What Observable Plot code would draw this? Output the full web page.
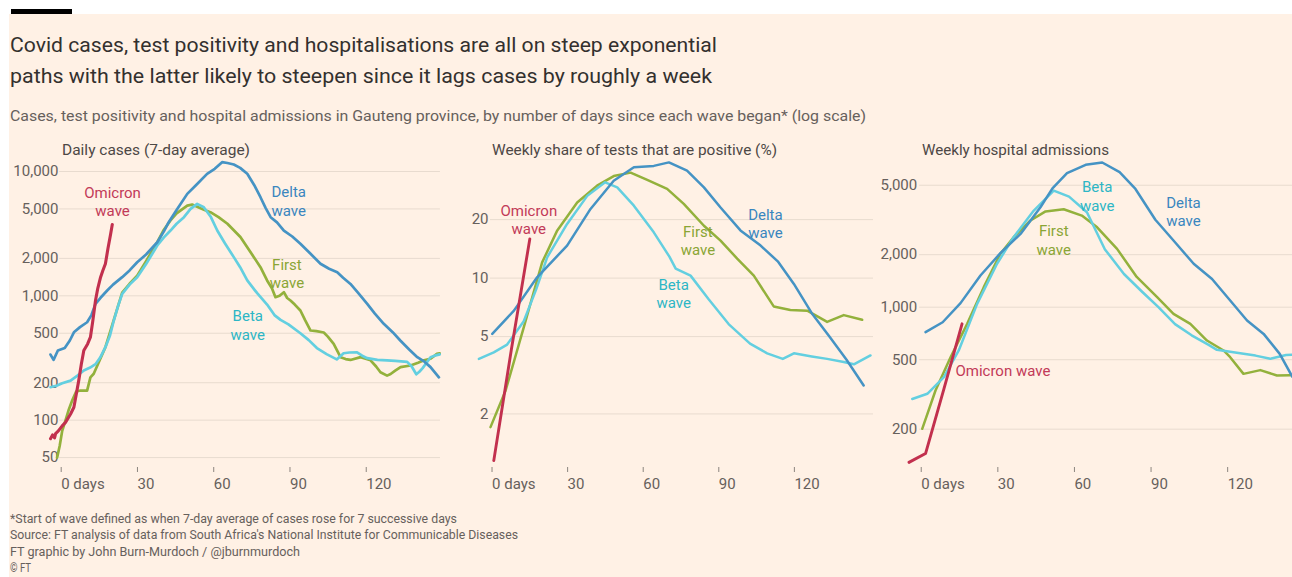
<!DOCTYPE html>
<html>
<head>
<meta charset="utf-8">
<script src="https://cdn.jsdelivr.net/npm/d3@7"></script>
<script src="https://cdn.jsdelivr.net/npm/@observablehq/plot@0.6"></script>
<style>
  html, body { margin: 0; padding: 0; background: #ffffff; }
  #root { position: relative; width: 1292px; height: 577px; overflow: hidden; background: #ffffff; font-family: Roboto, "Noto Sans", sans-serif; }
  #paper { position: absolute; left: 9px; top: 14px; right: 0; bottom: 0; background: #fff1e5; }
  #bar { position: absolute; left: 11px; top: 9px; width: 61px; height: 5px; background: #000; }
  .t { position: absolute; white-space: nowrap; transform-origin: 0 50%; line-height: 1; }
  .title { font-size: 21px; color: #33302e; }
  .sub { font-size: 15px; color: #66605c; }
  .ptitle { font-size: 15px; color: #4d4845; }
  .foot { font-size: 12.5px; color: #66605c; }
  .panel { position: absolute; top: 130px; }
</style>
</head>
<body>
<div id="root">
  <div id="paper"></div>
  <div id="bar"></div>
  <div class="t title" style="left:10px; top:34.5px" data-w="707">Covid cases, test positivity and hospitalisations are all on steep exponential</div>
  <div class="t title" style="left:10px; top:65.5px" data-w="702">paths with the latter likely to steepen since it lags cases by roughly a week</div>
  <div class="t sub" style="left:10px; top:108.5px" data-w="856">Cases, test positivity and hospital admissions in Gauteng province, by number of days since each wave began* (log scale)</div>
  <div class="t ptitle" style="left:62px; top:142.5px" data-w="188">Daily cases (7-day average)</div>
  <div class="t ptitle" style="left:492px; top:142.5px" data-w="285">Weekly share of tests that are positive (%)</div>
  <div class="t ptitle" style="left:922px; top:142.5px" data-w="187">Weekly hospital admissions</div>
  <div class="panel" id="p1" style="left:0px; width:450px"></div>
  <div class="panel" id="p2" style="left:440px; width:440px"></div>
  <div class="panel" id="p3" style="left:860px; width:432px"></div>
  <div class="t foot" style="left:10px; top:512.5px" data-w="447">*Start of wave defined as when 7-day average of cases rose for 7 successive days</div>
  <div class="t foot" style="left:10px; top:529px" data-w="508">Source: FT analysis of data from South Africa's National Institute for Communicable Diseases</div>
  <div class="t foot" style="left:10px; top:545.5px" data-w="290">FT graphic by John Burn-Murdoch / @jburnmurdoch</div>
  <div class="t foot" style="left:10px; top:561.5px" data-w="21">© FT</div>
</div>
<script>
// ---------- DATA ----------
const waves = ["First", "Beta", "Delta", "Omicron"];
const xTicks = [0, 30, 60, 90, 120];

// Daily cases (7-day average): [day since wave began, cases]
const casesFirst = [[-2,50],[-1,62],[0,82],[1,95],[2.5,120],[4,145],[5.5,170],[7.2,173],[9.8,173],[11.1,221],[12.4,236],[14,280],[17,386],[20.3,640],[23.6,1060],[26.5,1250],[29.5,1450],[33,1900],[37.4,2700],[40,3400],[42.6,4036],[45,4600],[49.2,5320],[51.1,5420],[54,5100],[56,4900],[58.3,4710],[61.5,4300],[65,3800],[70.1,2970],[75.4,2047],[78,1700],[80.6,1330],[82.5,1150],[83.9,975],[85.5,1000],[87.2,1070],[88.5,960],[89.8,917],[91.5,850],[93.7,762],[95.5,640],[97.7,526],[100,520],[102.9,507],[104.5,470],[106.8,411],[109.5,321],[111.5,310],[113.4,305],[117.4,321],[121.3,303],[123.5,270],[125.2,243],[127.8,228],[129.2,235],[131,250],[133.1,267],[137,275],[140,290],[142.3,303],[144.9,312],[147.4,341],[148.5,345]];
const casesBeta = [[-4.6,184],[-2,190],[0,198],[3.3,208],[6,228],[8.5,251],[11,265],[13.1,282],[15,320],[17,386],[18.8,480],[20.3,633],[22,830],[23.6,1038],[26.5,1230],[29.5,1412],[33,1800],[37.4,2540],[40,2950],[42.6,3350],[45,3800],[47.9,4290],[50.5,5000],[53.1,5490],[55.7,5160],[58.5,4300],[61,3350],[64,2650],[67.5,2047],[70,1700],[72.8,1330],[76.7,1050],[80.6,850],[83.5,700],[85.9,640],[89,590],[93.7,500],[97,440],[100.2,380],[104,340],[108,308],[110.7,345],[113,350],[116,351],[118,330],[120,315],[124,305],[127.8,303],[131,300],[135.7,294],[137.5,270],[139.3,234],[140.5,245],[141.8,262],[144.9,321],[146.5,330],[148.5,338]];
const casesDelta = [[-4.6,337],[-3.4,305],[-1.7,363],[1,380],[3,437],[4.6,509],[7,560],[9.8,613],[11.5,700],[13.1,861],[15,960],[17.7,1104],[20,1230],[23.6,1413],[26.5,1600],[29.5,1862],[33,2150],[37.4,2698],[40,3300],[41.9,3908],[45,4900],[49.2,6607],[53,7900],[57,9575],[60,10500],[62.9,11880],[65,11700],[67.5,11380],[70,10700],[72.8,9580],[75.5,7800],[78,6210],[80,5100],[82,4290],[84.5,3900],[87.2,3350],[90.5,3000],[93.7,2620],[97.5,2200],[101.6,1810],[105,1650],[108.2,1549],[110.5,1400],[113.4,1247],[116.5,1050],[120,862],[123,720],[126.5,596],[130,510],[133,437],[136.5,370],[139.7,321],[142.5,295],[144.9,267],[148.2,221]];
const casesOmicron = [[-4.6,71],[-3.8,76],[-3,72],[-2.6,78],[-1.5,82],[0,90],[1.3,96],[3.3,112],[4.6,127],[5.5,160],[6.5,208],[7.5,280],[8.5,363],[10,410],[11.1,465],[12,620],[13.1,917],[14,1150],[15.1,1412],[16,1600],[17,1810],[18,2400],[19,3100],[19.7,3750]];
const casesTicks = [50, 100, 200, 500, 1000, 2000, 5000, 10000];

// Weekly share of tests that are positive (%)
const posFirst = [[-1,1.71],[5,2.64],[12.2,5.58],[19.5,12.05],[25.5,17.6],[33.4,24.5],[41.3,29.9],[47.9,33.5],[54.6,34.9],[61.2,32],[69.1,28.8],[75.7,24.1],[83.7,18.6],[90.3,15.6],[96.9,12.6],[103.5,10.3],[111.4,7.15],[118,6.85],[124.7,6.8],[132.6,5.95],[139.2,6.45],[146.5,6.1]];
const posBeta = [[-5.6,3.84],[0.3,4.15],[5.6,4.55],[12.2,6.0],[17.2,8.8],[21.5,12.8],[29.4,19.0],[37.4,26.5],[44.5,31.1],[49.3,29.3],[55.9,23.6],[63.8,17.2],[70,12.9],[72.5,11.2],[78.4,10.3],[85.5,7.8],[93.5,5.8],[102,4.6],[108.8,4.1],[115,3.84],[119.4,4.1],[126.5,3.95],[132.6,3.84],[139.2,3.7],[143.2,3.6],[149.8,4.0]];
const posDelta = [[-0.3,5.16],[8.3,6.8],[17.5,10.1],[29.4,14.7],[38.7,22.7],[47.9,31.7],[55.9,37.2],[63.8,37.8],[69.8,39.4],[77,35.7],[83.7,29.3],[90.3,23.1],[98.2,17.6],[106.2,14.7],[113,12.2],[119.4,9.33],[126.5,6.6],[133.5,5.0],[140.3,3.8],[147.1,2.8]];
const posOmicron = [[0.3,1.15],[7.3,4.3],[14.6,15.9]];
const posTicks = [2, 5, 10, 20];

// Weekly hospital admissions
const admFirst = [[0,201],[5.2,333],[11.1,517],[17.6,803],[24.1,1303],[30.6,2023],[35.8,2520],[42.4,3140],[48.3,3540],[55.4,3640],[62.5,3350],[68.5,2870],[76.3,2160],[84,1490],[92,1141],[98.4,916],[105,803],[111.5,644],[118,565],[120.6,517],[125.8,415],[132.4,436],[138.9,406],[144.1,408]];
const admBeta = [[-3.9,298],[2,319],[8.5,397],[14.3,565],[21.5,1045],[29.3,1774],[35.8,2520],[43.7,3580],[51.5,4660],[57.5,4300],[64.5,3500],[71.5,2150],[79,1550],[86,1230],[92.5,1000],[99,800],[105.5,690],[112,610],[115.4,570],[123.2,548],[130.5,528],[136.3,506],[142.5,532],[145,535]];
const admDelta = [[1.3,719],[8,820],[15,1055],[22.8,1520],[30.6,2040],[38.5,2630],[46.3,3740],[51,4800],[56.7,5870],[64,6550],[70.5,6750],[77.3,5940],[83.5,4760],[91.3,3170],[98.4,2410],[106.3,1774],[113.5,1450],[120.6,1092],[127.2,839],[133.7,703],[140,540],[144.9,400]];
const admOmicron = [[-5.2,129],[1.3,145],[8.5,340],[15.6,803]];
const admTicks = [200, 500, 1000, 2000, 5000];

// Line labels, anchored in data coordinates
const casesLabels = [
  {wave: "Omicron", text: "Omicron\nwave", day: 19.8, value: 5740},
  {wave: "Delta", text: "Delta\nwave", day: 89.1, value: 5820},
  {wave: "First", text: "First\nwave", day: 88.4, value: 1526},
  {wave: "Beta", text: "Beta\nwave", day: 73, value: 585}
];
const posLabels = [
  {wave: "Omicron", text: "Omicron\nwave", day: 14.2, value: 20.2},
  {wave: "First", text: "First\nwave", day: 81.3, value: 15.74},
  {wave: "Delta", text: "Delta\nwave", day: 108.1, value: 19.2},
  {wave: "Beta", text: "Beta\nwave", day: 71.7, value: 8.37}
];
const admLabels = [
  {wave: "Beta", text: "Beta\nwave", day: 68.5, value: 4365},
  {wave: "Delta", text: "Delta\nwave", day: 102.3, value: 3544},
  {wave: "First", text: "First\nwave", day: 51.5, value: 2437},
  {wave: "Omicron", text: "Omicron wave", day: 13, value: 430, start: true}
];

// ---------- STYLE ----------
const lineColor = {First: "#93b13c", Beta: "#63cfe0", Delta: "#4593c4", Omicron: "#c2304e"};
const textColor = {First: "#8aa535", Beta: "#2db6c5", Delta: "#3a86bf", Omicron: "#c23a58"};
const grid = "#e8dbcf";
const axisColor = "#66605c";
const font = "Roboto, 'Noto Sans', sans-serif";

function rows(series) {
  const out = [];
  for (const [wave, pts] of series) for (const [day, value] of pts) out.push({wave, day, value});
  return out;
}

function panel(el, cfg) {
  const data = rows(cfg.series);
  const fmt = d3.format(",");
  const svg = Plot.plot({
    width: cfg.width,
    height: 367,
    marginTop: 30,
    marginBottom: 30,
    marginLeft: cfg.marginLeft,
    marginRight: cfg.marginRight,
    style: {background: "transparent", overflow: "visible", fontFamily: font, color: axisColor},
    x: {domain: cfg.xDomain, label: null},
    y: {type: "log", domain: cfg.yDomain, label: null, axis: null},
    color: {type: "identity"},
    marks: [
      Plot.ruleY(cfg.yTicks, {y: d => d, x1: -1, x2: cfg.gridEnd, stroke: grid, strokeWidth: 1}),
      Plot.text(cfg.yTicks, {y: d => d, text: d => fmt(d), frameAnchor: "left", textAnchor: "end",
        dx: cfg.labelDx, fontSize: 15, fill: axisColor}),
      Plot.axisX(xTicks, {tickSize: 5, tickPadding: 6, textAnchor: "start", dx: -1, fontSize: 15, fill: axisColor,
        stroke: "#8c857f", label: null, tickFormat: d => d === 0 ? "0 days" : String(d)}),
      Plot.line(data.filter(d => d.wave !== "Omicron"), {x: "day", y: "value", z: "wave",
        stroke: d => lineColor[d.wave], strokeWidth: cfg.sw}),
      Plot.line(data.filter(d => d.wave === "Omicron"), {x: "day", y: "value", z: "wave",
        stroke: d => lineColor[d.wave], strokeWidth: cfg.sw + 0.4}),
      Plot.text(cfg.labels.filter(d => !d.start), {x: "day", y: "value", text: "text",
        fill: d => textColor[d.wave], fontSize: 15, lineHeight: 1.22, textAnchor: "middle", lineAnchor: "middle"}),
      Plot.text(cfg.labels.filter(d => d.start), {x: "day", y: "value", text: "text",
        fill: d => textColor[d.wave], fontSize: 15, textAnchor: "start", lineAnchor: "middle"})
    ]
  });
  el.appendChild(svg);
}

panel(document.getElementById("p1"), {
  width: 450, marginLeft: 46.45, marginRight: 7, xDomain: [-6, 150], gridEnd: 148.8,
  yDomain: [41.6, 12260], yTicks: casesTicks, labelDx: 11.5, sw: 2.7,
  series: [["First", casesFirst], ["Beta", casesBeta], ["Delta", casesDelta], ["Omicron", casesOmicron]],
  labels: casesLabels
});
panel(document.getElementById("p2"), {
  width: 440, marginLeft: 37.4, marginRight: 7, xDomain: [-6, 151], gridEnd: 151,
  yDomain: [1.06, 40.3], yTicks: posTicks, labelDx: 10.6, sw: 2.5,
  series: [["First", posFirst], ["Beta", posBeta], ["Delta", posDelta], ["Omicron", posOmicron]],
  labels: posLabels
});
panel(document.getElementById("p3"), {
  width: 432, marginLeft: 46.4, marginRight: 0, xDomain: [-6, 145], gridEnd: 145,
  yDomain: [120.6, 6930], yTicks: admTicks, labelDx: 10.3, sw: 2.5,
  series: [["First", admFirst], ["Beta", admBeta], ["Delta", admDelta], ["Omicron", admOmicron]],
  labels: admLabels
});

// Fit HTML text lines to the reference widths (FT's face is a condensed grotesque)
document.querySelectorAll("[data-w]").forEach(el => {
  const w = el.getBoundingClientRect().width;
  if (w > 0) el.style.transform = `scaleX(${(+el.dataset.w / w).toFixed(4)})`;
});
</script>
</body>
</html>
